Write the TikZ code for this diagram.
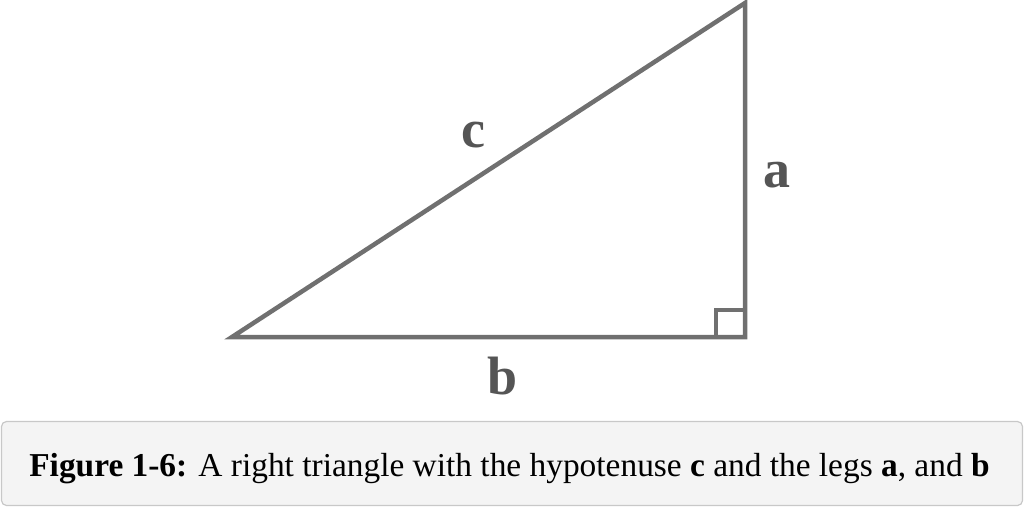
\documentclass[tikz,border=0pt]{standalone}
\usepackage{fontspec}
\setmainfont{Liberation Serif}
\definecolor{edge}{HTML}{707070}
\definecolor{lbl}{HTML}{555555}
\definecolor{capfill}{HTML}{F4F4F4}
\definecolor{capline}{HTML}{C8C8C8}
\tikzset{
  leg/.style={draw=edge, line width=4.5pt, line join=miter},
  side/.style={text=lbl, font=\fontsize{54}{60}\selectfont\bfseries, inner sep=0pt},
  capbox/.style={draw=capline, fill=capfill, line width=1.2pt, rounded corners=5pt}
}
\begin{document}
\begin{tikzpicture}[x=1pt,y=-1pt]
\useasboundingbox (0,0) rectangle (1024,507);
\coordinate (A) at (232,337);
\coordinate (C) at (745,337);
\coordinate (B) at (745,3);
\draw[leg] (A) -- (C) -- (B) -- cycle;
\draw[leg] (716,337) |- (745,310);
\node[side] (lc) at (473,135.5) {c};
\node[side] (la) at (777,175) {a};
\node[side] (lb) at (503,376.5) {b};
\draw[capbox] (1.5,421.5) rectangle (1022.5,505.5);
\node[font=\fontsize{33.4}{38}\selectfont, inner sep=0pt, anchor=base] (cap) at (509.5,476)
  {\textbf{Figure 1-6:} A right triangle with the hypotenuse \textbf{c} and the legs \textbf{a}, and \textbf{b}};
\end{tikzpicture}
\end{document}
